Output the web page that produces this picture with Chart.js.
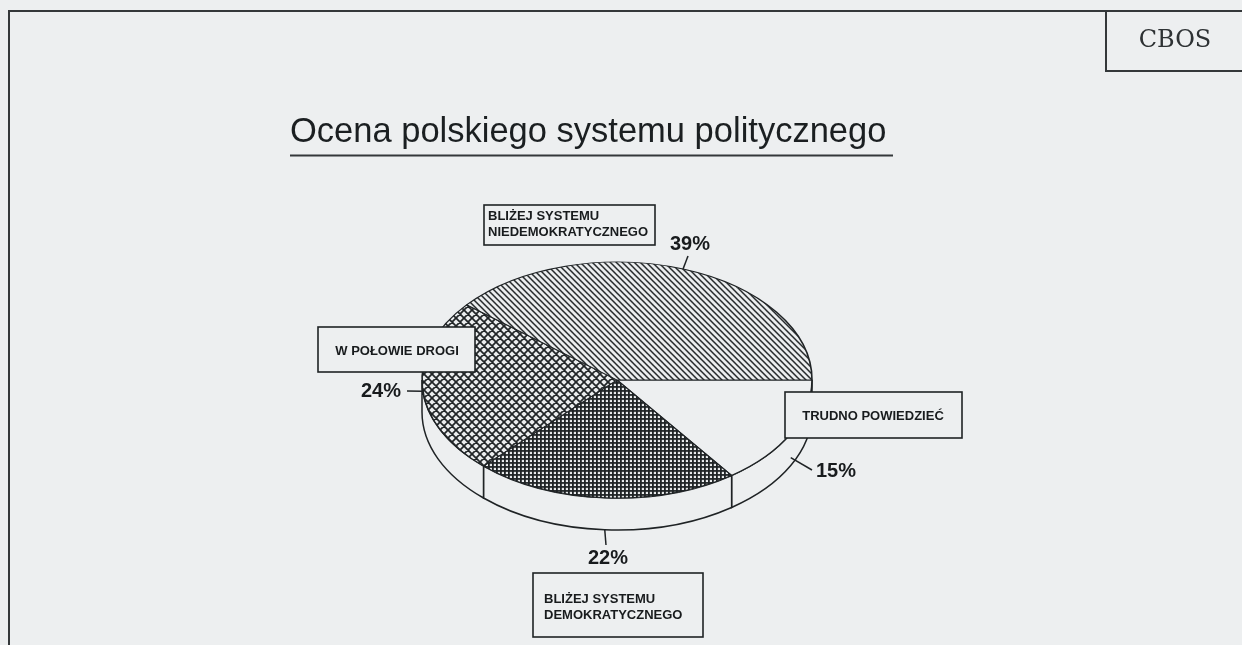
<!DOCTYPE html>
<html lang="pl">
<head>
<meta charset="utf-8">
<title>Ocena polskiego systemu politycznego</title>
<script src="https://cdn.jsdelivr.net/npm/chart.js@4/dist/chart.umd.min.js"></script>
<style>
  html, body { margin: 0; padding: 0; background: #edeff0; }
  #wrap { position: relative; width: 1242px; height: 645px; overflow: hidden; }
</style>
</head>
<body>
<div id="wrap"><canvas id="chart" width="1242" height="645"></canvas></div>
<script>
// ---- data ----
const categories = ['TRUDNO POWIEDZIEĆ', 'BLIŻEJ SYSTEMU DEMOKRATYCZNEGO', 'W POŁOWIE DROGI', 'BLIŻEJ SYSTEMU NIEDEMOKRATYCZNEGO'];
const categoryLines = [['TRUDNO POWIEDZIEĆ'], ['BLIŻEJ SYSTEMU', 'DEMOKRATYCZNEGO'], ['W POŁOWIE DROGI'], ['BLIŻEJ SYSTEMU', 'NIEDEMOKRATYCZNEGO']];
const shares = [15, 22, 24, 39];
const titleText = 'Ocena polskiego systemu politycznego';
const sourceText = 'CBOS';

// ---- look ----
const PAPER = '#edeff0';
const INK = '#1f2325';
const TILT = 118 / 195;   // vertical squash of the disc
const DEPTH = 32;         // thickness of the disc edge

// callout boxes, percent labels and leader ends
const callouts = [
  { box: [785, 392, 177, 46], textX: 873, textY: [416], align: 'center', pct: [836, 471], leadTo: [812, 470], leadFrac: 0.75 },
  { box: [533, 573, 170, 64], textX: 544, textY: [599, 615], align: 'left', pct: [608, 558], leadTo: [606, 545], leadFrac: 1 },
  { box: [318, 327, 157, 45], textX: 397, textY: [351], align: 'center', pct: [381, 391], leadTo: [407, 391], leadFrac: 0.12 },
  { box: [484, 205, 171, 40], textX: 488, textY: [216, 232], align: 'left', pct: [690, 244], leadTo: [688, 256], leadFrac: 0 }
];

function makePattern(size, paint) {
  const c = document.createElement('canvas');
  c.width = c.height = size;
  const g = c.getContext('2d');
  g.fillStyle = PAPER;
  g.fillRect(0, 0, size, size);
  g.strokeStyle = INK;
  g.fillStyle = INK;
  paint(g, size);
  const p = g.createPattern(c, 'repeat');
  p.setTransform(new DOMMatrix().scale(1, 1 / TILT));
  return p;
}

const diagonal = makePattern(6, (g, s) => {
  g.lineWidth = 1.45;
  g.beginPath();
  g.moveTo(-1, -1); g.lineTo(s + 1, s + 1);
  g.moveTo(s - 1, -1); g.lineTo(s + 1, 1);
  g.moveTo(-1, s - 1); g.lineTo(1, s + 1);
  g.stroke();
});
const crossHatch = makePattern(8, (g, s) => {
  g.lineWidth = 1.7;
  g.beginPath();
  g.moveTo(-1, -1); g.lineTo(s + 1, s + 1);
  g.moveTo(s - 1, -1); g.lineTo(s + 1, 1);
  g.moveTo(-1, s - 1); g.lineTo(1, s + 1);
  g.moveTo(s + 1, -1); g.lineTo(-1, s + 1);
  g.moveTo(1, -1); g.lineTo(-1, 1);
  g.moveTo(s + 1, s - 1); g.lineTo(s - 1, s + 1);
  g.stroke();
});
const denseGrid = makePattern(4, (g, s) => {
  g.fillRect(0, 0, s, 1.8);
  g.fillRect(0, 0, 1.8, s);
});
const sliceFills = [PAPER, denseGrid, crossHatch, diagonal];

function arcProps(arc) {
  return arc.getProps(['x', 'y', 'startAngle', 'endAngle', 'outerRadius'], true);
}

const tiltedPie = {
  id: 'tiltedPie',
  beforeDatasetsDraw(chart) {
    const ctx = chart.ctx;
    const arcs = chart.getDatasetMeta(0).data;
    // visible front edge of the disc
    ctx.save();
    ctx.lineWidth = 1.5;
    ctx.strokeStyle = INK;
    ctx.fillStyle = PAPER;
    arcs.forEach(arc => {
      const { x, y, startAngle, endAngle, outerRadius: R } = arcProps(arc);
      const s = Math.max(startAngle, 0);
      const e = Math.min(endAngle, Math.PI);
      if (e <= s) return;
      const ry = R * TILT;
      ctx.beginPath();
      ctx.ellipse(x, y, R, ry, 0, s, e);
      ctx.lineTo(x + R * Math.cos(e), y + ry * Math.sin(e) + DEPTH);
      ctx.ellipse(x, y + DEPTH, R, ry, 0, e, s, true);
      ctx.closePath();
      ctx.fill();
      ctx.stroke();
    });
    ctx.restore();
    // squash the top face
    const { x, y } = arcProps(arcs[0]);
    ctx.save();
    ctx.translate(x, y);
    ctx.scale(1, TILT);
    ctx.translate(-x, -y);
  },
  afterDatasetsDraw(chart) {
    chart.ctx.restore();
  },
  afterDraw(chart) {
    const ctx = chart.ctx;
    const arcs = chart.getDatasetMeta(0).data;
    ctx.save();

    // page frame
    ctx.strokeStyle = '#34383a';
    ctx.lineWidth = 2;
    ctx.beginPath();
    ctx.moveTo(9, 650); ctx.lineTo(9, 11); ctx.lineTo(1250, 11);
    ctx.stroke();
    ctx.strokeRect(1106, 11, 140, 60);
    ctx.fillStyle = '#2e3234';
    ctx.font = '24px "DejaVu Serif"';
    ctx.textAlign = 'center';
    ctx.textBaseline = 'middle';
    ctx.fillText(sourceText, 1175, 41);

    // title
    ctx.fillStyle = '#1b1f21';
    ctx.font = '34.5px "Liberation Sans", Arial, sans-serif';
    ctx.textAlign = 'left';
    ctx.textBaseline = 'alphabetic';
    ctx.fillText(titleText, 290, 142);
    ctx.beginPath();
    ctx.lineWidth = 2;
    ctx.moveTo(290, 155.5); ctx.lineTo(893, 155.5);
    ctx.stroke();

    // callouts
    arcs.forEach((arc, i) => {
      const c = callouts[i];
      const { x, y, startAngle, endAngle, outerRadius: R } = arcProps(arc);
      const mid = (startAngle + endAngle) / 2;
      const px = x + R * Math.cos(mid);
      const py = y + R * TILT * Math.sin(mid) + (Math.sin(mid) > 0 ? DEPTH * c.leadFrac : 0);
      ctx.strokeStyle = INK;
      ctx.lineWidth = 1.5;
      ctx.beginPath();
      ctx.moveTo(px, py);
      ctx.lineTo(c.leadTo[0], c.leadTo[1]);
      ctx.stroke();

      ctx.fillStyle = '#181b1d';
      ctx.font = 'bold 20px "Liberation Sans", Arial, sans-serif';
      ctx.textAlign = 'center';
      ctx.textBaseline = 'middle';
      ctx.fillText(shares[i] + '%', c.pct[0], c.pct[1]);

      const [bx, by, bw, bh] = c.box;
      ctx.fillStyle = PAPER;
      ctx.fillRect(bx, by, bw, bh);
      ctx.lineWidth = 1.6;
      ctx.strokeRect(bx, by, bw, bh);
      ctx.fillStyle = '#181b1d';
      ctx.font = 'bold 13px "Liberation Sans", Arial, sans-serif';
      ctx.textAlign = c.align;
      categoryLines[i].forEach((line, j) => ctx.fillText(line, c.textX, c.textY[j]));
    });
    ctx.restore();
  }
};

new Chart(document.getElementById('chart'), {
  type: 'pie',
  data: {
    labels: categories,
    datasets: [{
      data: shares,
      backgroundColor: sliceFills,
      borderColor: INK,
      borderWidth: 1.6,
      clip: false
    }]
  },
  options: {
    responsive: false,
    animation: false,
    events: [],
    rotation: 90,
    radius: 195,
    layout: { padding: { left: 417, right: 425, top: 180, bottom: 65 } },
    plugins: {
      legend: { display: false },
      tooltip: { enabled: false },
      title: { display: false }
    }
  },
  plugins: [tiltedPie]
});
</script>
</body>
</html>
